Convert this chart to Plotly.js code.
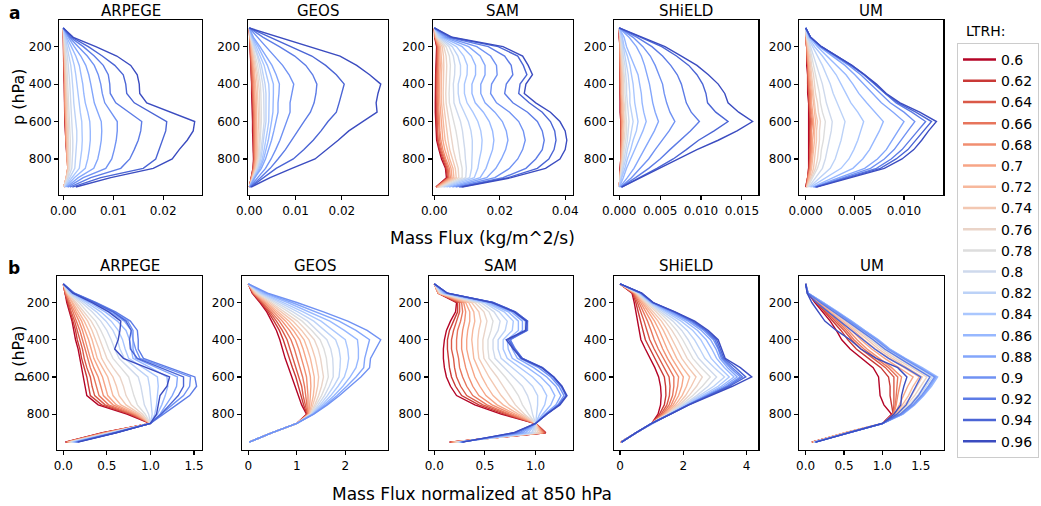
<!DOCTYPE html>
<html><head><meta charset="utf-8">
<script src="https://cdn.plot.ly/plotly-3.0.1.min.js"></script>
<style>html,body{margin:0;padding:0;background:#fff}#chart{width:1041px;height:506px}</style>
</head><body><div id="chart"></div>
<script>
const LTRH = [0.6,0.62,0.64,0.66,0.68,0.7,0.72,0.74,0.76,0.78,0.8,0.82,0.84,0.86,0.88,0.9,0.92,0.94,0.96];
const PRESSURE = [100,150,200,250,300,350,400,450,500,550,600,650,700,750,800,850,900,950];
const MODELS = ['ARPEGE','GEOS','SAM','SHiELD','UM'];

// Row a: mass flux (kg/m^2/s), one row per LTRH value (0.6 ... 0.96), one value per pressure level
const FLUX_ARPEGE = [
 [0,0,0.0001,0.0001,0.0001,0.0001,0.0002,0.0002,0.0002,0.0003,0.0003,0.0004,0.0005,0.0006,0.0008,0.0010,0.0008,0.0001],
 [0,0,0.0001,0.0001,0.0001,0.0002,0.0002,0.0002,0.0003,0.0003,0.0004,0.0004,0.0005,0.0006,0.0008,0.0010,0.0007,0.0001],
 [0,0,0.0001,0.0001,0.0002,0.0002,0.0002,0.0003,0.0003,0.0003,0.0004,0.0005,0.0005,0.0006,0.0008,0.0009,0.0007,0.0001],
 [0,0.0001,0.0001,0.0002,0.0002,0.0002,0.0003,0.0003,0.0003,0.0004,0.0004,0.0005,0.0006,0.0007,0.0008,0.0009,0.0006,0.0001],
 [0,0.0001,0.0001,0.0002,0.0002,0.0003,0.0003,0.0003,0.0004,0.0004,0.0005,0.0005,0.0006,0.0007,0.0008,0.0009,0.0006,0.0001],
 [0,0.0001,0.0001,0.0002,0.0003,0.0003,0.0004,0.0004,0.0004,0.0005,0.0005,0.0006,0.0006,0.0007,0.0008,0.0009,0.0006,0.0001],
 [0,0.0001,0.0002,0.0003,0.0003,0.0004,0.0004,0.0005,0.0005,0.0006,0.0006,0.0007,0.0007,0.0008,0.0008,0.0009,0.0006,0.0001],
 [0,0.0001,0.0002,0.0003,0.0004,0.0005,0.0005,0.0006,0.0006,0.0007,0.0008,0.0008,0.0009,0.0009,0.0009,0.0010,0.0006,0.0001],
 [0,0.0002,0.0003,0.0004,0.0005,0.0006,0.0007,0.0007,0.0008,0.0009,0.0010,0.0010,0.0011,0.0011,0.0011,0.0011,0.0007,0.0001],
 [0,0.0002,0.0004,0.0006,0.0007,0.0008,0.0009,0.0010,0.0011,0.0012,0.0013,0.0014,0.0014,0.0014,0.0014,0.0013,0.0008,0.0002],
 [0,0.0003,0.0006,0.0008,0.0010,0.0012,0.0013,0.0014,0.0015,0.0016,0.0018,0.0019,0.0019,0.0019,0.0018,0.0017,0.0010,0.0002],
 [0,0.0004,0.0008,0.0012,0.0015,0.0017,0.0019,0.0020,0.0021,0.0023,0.0026,0.0027,0.0027,0.0026,0.0025,0.0023,0.0013,0.0003],
 [0,0.0005,0.0011,0.0017,0.0022,0.0025,0.0027,0.0029,0.0031,0.0034,0.0037,0.0038,0.0038,0.0037,0.0035,0.0032,0.0017,0.0004],
 [0,0.0007,0.0016,0.0025,0.0032,0.0036,0.0039,0.0041,0.0044,0.0049,0.0053,0.0054,0.0054,0.0052,0.0049,0.0044,0.0022,0.0005],
 [0,0.0010,0.0022,0.0035,0.0045,0.0051,0.0055,0.0058,0.0062,0.0069,0.0076,0.0077,0.0076,0.0073,0.0069,0.0061,0.0030,0.0007],
 [0,0.0012,0.0030,0.0048,0.0062,0.0070,0.0075,0.0078,0.0083,0.0095,0.0108,0.0108,0.0106,0.0102,0.0097,0.0085,0.0040,0.0009],
 [0,0.0014,0.0040,0.0062,0.0080,0.0090,0.0093,0.0094,0.0105,0.0130,0.0157,0.0155,0.0150,0.0142,0.0133,0.0115,0.0055,0.0013],
 [0,0.0017,0.0050,0.0078,0.0103,0.0120,0.0125,0.0127,0.0142,0.0175,0.0207,0.0205,0.0198,0.0192,0.0185,0.0160,0.0075,0.0018],
 [0,0.0020,0.0065,0.0107,0.0135,0.0148,0.0152,0.0153,0.0167,0.0215,0.0263,0.0260,0.0248,0.0232,0.0218,0.0180,0.0095,0.0025]
];
const FLUX_GEOS = [
 [0,0.0001,0.0002,0.0003,0.0004,0.0004,0.0005,0.0005,0.0006,0.0006,0.0007,0.0007,0.0008,0.0008,0.0009,0.0008,0.0004,0.00002],
 [0,0.0001,0.0002,0.0003,0.0004,0.0005,0.0006,0.0006,0.0007,0.0008,0.0008,0.0009,0.0009,0.0009,0.0010,0.0008,0.0004,0.00002],
 [0,0.0001,0.0002,0.0004,0.0005,0.0006,0.0007,0.0008,0.0008,0.0009,0.0009,0.0010,0.0010,0.0010,0.0011,0.0009,0.0004,0.00002],
 [0,0.0001,0.0003,0.0004,0.0006,0.0007,0.0008,0.0009,0.0009,0.0010,0.0010,0.0010,0.0011,0.0011,0.0011,0.0009,0.0004,0.00002],
 [0,0.0001,0.0003,0.0005,0.0007,0.0009,0.0010,0.0010,0.0011,0.0012,0.0012,0.0012,0.0012,0.0012,0.0012,0.0010,0.0005,0.00002],
 [0,0.0001,0.0004,0.0006,0.0008,0.0010,0.0012,0.0012,0.0013,0.0014,0.0014,0.0014,0.0014,0.0014,0.0014,0.0011,0.0005,0.00002],
 [0,0.0002,0.0005,0.0007,0.0010,0.0012,0.0014,0.0015,0.0015,0.0016,0.0016,0.0016,0.0016,0.0016,0.0015,0.0012,0.0006,0.00002],
 [0,0.0002,0.0006,0.0009,0.0013,0.0015,0.0017,0.0018,0.0019,0.0019,0.0020,0.0019,0.0019,0.0018,0.0017,0.0014,0.0007,0.00003],
 [0,0.0003,0.0007,0.0011,0.0015,0.0018,0.0020,0.0022,0.0022,0.0023,0.0023,0.0023,0.0022,0.0021,0.0019,0.0015,0.0007,0.00003],
 [0,0.0003,0.0008,0.0013,0.0018,0.0021,0.0024,0.0025,0.0026,0.0026,0.0026,0.0025,0.0024,0.0022,0.0021,0.0016,0.0008,0.00003],
 [0,0.0004,0.0010,0.0017,0.0022,0.0026,0.0029,0.0031,0.0031,0.0032,0.0032,0.0030,0.0028,0.0026,0.0023,0.0018,0.0009,0.00004],
 [0,0.0005,0.0012,0.0019,0.0026,0.0030,0.0034,0.0036,0.0036,0.0036,0.0036,0.0033,0.0031,0.0028,0.0025,0.0019,0.0009,0.00004],
 [0,0.0006,0.0015,0.0024,0.0032,0.0037,0.0042,0.0043,0.0043,0.0043,0.0042,0.0039,0.0036,0.0032,0.0028,0.0021,0.0010,0.00004],
 [0,0.0007,0.0019,0.0029,0.0039,0.0046,0.0052,0.0052,0.0052,0.0051,0.0048,0.0045,0.0041,0.0036,0.0031,0.0023,0.0011,0.00005],
 [0,0.0009,0.0023,0.0036,0.0049,0.0058,0.0065,0.0064,0.0062,0.0062,0.0058,0.0053,0.0048,0.0042,0.0035,0.0026,0.0012,0.00005],
 [0,0.0018,0.0035,0.0054,0.0072,0.0086,0.0096,0.0092,0.0088,0.0088,0.0081,0.0074,0.0066,0.0057,0.0047,0.0035,0.0017,0.0001],
 [0,0.0030,0.0065,0.0098,0.0122,0.0137,0.0146,0.0144,0.0140,0.0132,0.0118,0.0105,0.0092,0.0078,0.0062,0.0045,0.0024,0.0002],
 [0,0.0045,0.0090,0.0135,0.0165,0.0188,0.0205,0.0200,0.0194,0.0188,0.0170,0.0155,0.0138,0.0118,0.0095,0.0058,0.0030,0.0003],
 [0,0.0066,0.0133,0.0196,0.0232,0.0260,0.0284,0.0278,0.0274,0.0276,0.0245,0.0215,0.0192,0.0168,0.0142,0.0092,0.0045,0.0004]
];
const FLUX_SAM = [
 [0,0.0001,0.0007,0.0007,0.0005,0.0004,0.0003,0.0003,0.0003,0.0003,0.0004,0.0005,0.0007,0.0014,0.0022,0.0034,0.0037,0.0005],
 [0,0.0002,0.0008,0.0008,0.0007,0.0005,0.0005,0.0005,0.0005,0.0005,0.0006,0.0008,0.0010,0.0016,0.0025,0.0036,0.0040,0.0005],
 [0,0.0002,0.0010,0.0010,0.0009,0.0007,0.0007,0.0007,0.0007,0.0008,0.0009,0.0010,0.0012,0.0019,0.0028,0.0039,0.0043,0.0006],
 [0,0.0003,0.0011,0.0012,0.0011,0.0010,0.0009,0.0009,0.0010,0.0011,0.0012,0.0013,0.0016,0.0022,0.0031,0.0042,0.0045,0.0007],
 [0,0.0003,0.0013,0.0014,0.0014,0.0013,0.0012,0.0012,0.0013,0.0014,0.0016,0.0017,0.0020,0.0026,0.0035,0.0046,0.0049,0.0008],
 [0,0.0004,0.0016,0.0018,0.0018,0.0017,0.0016,0.0016,0.0017,0.0019,0.0020,0.0023,0.0026,0.0032,0.0041,0.0051,0.0054,0.0010],
 [0,0.0005,0.0019,0.0022,0.0023,0.0022,0.0021,0.0021,0.0022,0.0024,0.0027,0.0030,0.0033,0.0039,0.0047,0.0057,0.0060,0.0012],
 [0,0.0006,0.0024,0.0028,0.0029,0.0028,0.0027,0.0027,0.0028,0.0031,0.0035,0.0038,0.0042,0.0047,0.0055,0.0064,0.0067,0.0014],
 [0,0.0008,0.0029,0.0036,0.0038,0.0037,0.0035,0.0035,0.0036,0.0040,0.0045,0.0050,0.0054,0.0058,0.0065,0.0073,0.0075,0.0017],
 [0,0.0010,0.0036,0.0046,0.0049,0.0048,0.0045,0.0045,0.0046,0.0053,0.0060,0.0066,0.0071,0.0074,0.0079,0.0085,0.0085,0.0020],
 [0,0.0013,0.0045,0.0058,0.0063,0.0062,0.0058,0.0058,0.0060,0.0070,0.0080,0.0086,0.0090,0.0093,0.0095,0.0098,0.0096,0.0025],
 [0,0.0016,0.0055,0.0072,0.0080,0.0080,0.0073,0.0073,0.0078,0.0092,0.0104,0.0112,0.0116,0.0116,0.0115,0.0114,0.0108,0.0030],
 [0,0.0020,0.0068,0.0090,0.0101,0.0100,0.0092,0.0092,0.0100,0.0118,0.0133,0.0142,0.0146,0.0144,0.0138,0.0133,0.0122,0.0037],
 [0,0.0026,0.0085,0.0113,0.0126,0.0126,0.0115,0.0115,0.0125,0.0150,0.0168,0.0178,0.0182,0.0178,0.0168,0.0158,0.0140,0.0045],
 [0,0.0032,0.0105,0.0140,0.0155,0.0155,0.0142,0.0142,0.0155,0.0185,0.0208,0.0220,0.0225,0.0218,0.0205,0.0188,0.0160,0.0055],
 [0,0.0038,0.0130,0.0172,0.0190,0.0192,0.0175,0.0172,0.0190,0.0230,0.0258,0.0272,0.0278,0.0270,0.0255,0.0230,0.0185,0.0065],
 [0,0.0045,0.0165,0.0215,0.0235,0.0240,0.0220,0.0215,0.0240,0.0285,0.0315,0.0330,0.0336,0.0330,0.0310,0.0280,0.0210,0.0075],
 [0,0.0050,0.0195,0.0255,0.0272,0.0283,0.0262,0.0258,0.0290,0.0330,0.0355,0.0368,0.0372,0.0366,0.0350,0.0315,0.0225,0.0080],
 [0,0.0055,0.0210,0.0270,0.0287,0.0300,0.0280,0.0275,0.0310,0.0355,0.0384,0.0400,0.0405,0.0400,0.0384,0.0340,0.0235,0.0085]
];
const FLUX_SHIELD = [
 [0,0,0.0001,0.0001,0.0001,0.0001,0.0001,0.0001,0.0001,0.0001,0.0002,0.0002,0.0002,0.0002,0.0002,0.0001,0.0001,0],
 [0,0,0.0001,0.0001,0.0001,0.0001,0.0001,0.0001,0.0002,0.0002,0.0002,0.0002,0.0002,0.0002,0.0002,0.0001,0.0001,0],
 [0,0.0001,0.0001,0.0001,0.0001,0.0001,0.0001,0.0002,0.0002,0.0002,0.0002,0.0002,0.0002,0.0002,0.0002,0.0002,0.0001,0],
 [0,0.0001,0.0001,0.0001,0.0001,0.0002,0.0002,0.0002,0.0002,0.0002,0.0003,0.0003,0.0003,0.0002,0.0002,0.0002,0.0001,0],
 [0,0.0001,0.0001,0.0001,0.0002,0.0002,0.0002,0.0002,0.0003,0.0003,0.0003,0.0003,0.0003,0.0003,0.0002,0.0002,0.0001,0],
 [0,0.0001,0.0001,0.0002,0.0002,0.0002,0.0003,0.0003,0.0003,0.0003,0.0004,0.0004,0.0004,0.0003,0.0003,0.0002,0.0001,0],
 [0,0.0001,0.0002,0.0002,0.0003,0.0003,0.0003,0.0003,0.0004,0.0004,0.0005,0.0004,0.0004,0.0004,0.0003,0.0002,0.0001,0.00001],
 [0,0.0001,0.0002,0.0003,0.0003,0.0004,0.0004,0.0004,0.0005,0.0005,0.0006,0.0005,0.0005,0.0004,0.0004,0.0002,0.0001,0.00001],
 [0,0.0002,0.0002,0.0003,0.0004,0.0005,0.0005,0.0005,0.0006,0.0007,0.0007,0.0007,0.0006,0.0005,0.0004,0.0003,0.0001,0.00001],
 [0,0.0002,0.0003,0.0004,0.0005,0.0006,0.0007,0.0007,0.0008,0.0008,0.0009,0.0009,0.0008,0.0006,0.0005,0.0003,0.0002,0.00001],
 [0,0.0002,0.0004,0.0005,0.0007,0.0008,0.0009,0.0009,0.0010,0.0011,0.0012,0.0011,0.0010,0.0008,0.0006,0.0004,0.0002,0.00001],
 [0,0.0003,0.0005,0.0007,0.0009,0.0011,0.0012,0.0013,0.0013,0.0015,0.0017,0.0015,0.0013,0.0010,0.0008,0.0005,0.0003,0.00002],
 [0,0.0004,0.0006,0.0010,0.0013,0.0015,0.0017,0.0018,0.0019,0.0021,0.0023,0.0021,0.0017,0.0014,0.0010,0.0007,0.0003,0.00003],
 [0,0.0006,0.0009,0.0014,0.0019,0.0023,0.0025,0.0027,0.0028,0.0030,0.0033,0.0029,0.0024,0.0019,0.0014,0.0009,0.0005,0.00004],
 [0,0.0012,0.0021,0.0027,0.0031,0.0034,0.0037,0.0039,0.0041,0.0044,0.0048,0.0043,0.0037,0.0031,0.0025,0.0018,0.0010,0.0001],
 [0,0.0017,0.0029,0.0038,0.0044,0.0049,0.0053,0.0055,0.0058,0.0062,0.0068,0.0061,0.0052,0.0044,0.0036,0.0026,0.0015,0.0002],
 [0,0.0022,0.0040,0.0053,0.0063,0.0071,0.0076,0.0079,0.0082,0.0088,0.0098,0.0087,0.0074,0.0062,0.0050,0.0036,0.0020,0.0002],
 [0,0.0027,0.0052,0.0070,0.0085,0.0095,0.0102,0.0106,0.0108,0.0118,0.0133,0.0116,0.0097,0.0082,0.0066,0.0046,0.0025,0.0003],
 [0,0.0029,0.0056,0.0076,0.0095,0.0109,0.0121,0.0129,0.0133,0.0146,0.0163,0.0144,0.0121,0.0095,0.0072,0.0050,0.0027,0.0003]
];
const FLUX_UM = [
 [0,0,0.0001,0.0001,0.0001,0.0002,0.0002,0.0002,0.0003,0.0003,0.0003,0.0003,0.0003,0.0003,0.0003,0.0003,0.0002,0],
 [0,0,0.0001,0.0001,0.0002,0.0002,0.0002,0.0003,0.0003,0.0004,0.0004,0.0004,0.0004,0.0004,0.0004,0.0003,0.0002,0],
 [0,0,0.0001,0.0001,0.0002,0.0002,0.0003,0.0003,0.0004,0.0004,0.0005,0.0005,0.0005,0.0004,0.0004,0.0004,0.0002,0.0001],
 [0,0,0.0001,0.0002,0.0002,0.0003,0.0003,0.0004,0.0004,0.0005,0.0006,0.0005,0.0005,0.0005,0.0005,0.0004,0.0002,0.0001],
 [0,0,0.0001,0.0002,0.0003,0.0003,0.0004,0.0005,0.0005,0.0006,0.0007,0.0006,0.0006,0.0006,0.0005,0.0005,0.0003,0.0001],
 [0,0.0001,0.0002,0.0002,0.0003,0.0004,0.0005,0.0006,0.0006,0.0007,0.0008,0.0008,0.0007,0.0007,0.0006,0.0005,0.0003,0.0001],
 [0,0.0001,0.0002,0.0003,0.0004,0.0005,0.0006,0.0007,0.0008,0.0009,0.0010,0.0009,0.0009,0.0008,0.0007,0.0006,0.0004,0.0001],
 [0,0.0001,0.0002,0.0004,0.0005,0.0006,0.0007,0.0008,0.0009,0.0010,0.0012,0.0011,0.0011,0.0010,0.0009,0.0008,0.0005,0.0001],
 [0,0.0001,0.0003,0.0005,0.0006,0.0008,0.0009,0.0010,0.0012,0.0013,0.0015,0.0014,0.0014,0.0013,0.0012,0.0010,0.0006,0.0002],
 [0,0.0001,0.0004,0.0006,0.0008,0.0010,0.0012,0.0014,0.0015,0.0017,0.0020,0.0019,0.0018,0.0016,0.0015,0.0012,0.0007,0.0002],
 [0,0.0002,0.0005,0.0008,0.0011,0.0014,0.0017,0.0019,0.0021,0.0024,0.0027,0.0026,0.0024,0.0022,0.0020,0.0017,0.0010,0.0003],
 [0,0.0002,0.0007,0.0012,0.0017,0.0021,0.0025,0.0028,0.0032,0.0036,0.0040,0.0038,0.0036,0.0033,0.0030,0.0025,0.0014,0.0004],
 [0,0.0003,0.0009,0.0017,0.0024,0.0031,0.0036,0.0041,0.0046,0.0053,0.0059,0.0056,0.0053,0.0049,0.0044,0.0036,0.0021,0.0005],
 [0,0.0004,0.0012,0.0022,0.0032,0.0041,0.0048,0.0054,0.0062,0.0071,0.0079,0.0075,0.0070,0.0065,0.0058,0.0048,0.0028,0.0007],
 [0,0.0004,0.0014,0.0027,0.0040,0.0050,0.0059,0.0067,0.0077,0.0089,0.0100,0.0094,0.0088,0.0082,0.0073,0.0060,0.0034,0.0008],
 [0,0.0005,0.0015,0.0030,0.0044,0.0056,0.0066,0.0075,0.0086,0.0100,0.0111,0.0104,0.0097,0.0090,0.0080,0.0066,0.0038,0.0009],
 [0,0.0005,0.0016,0.0031,0.0046,0.0059,0.0070,0.0080,0.0092,0.0108,0.0122,0.0114,0.0106,0.0098,0.0087,0.0072,0.0041,0.0010],
 [0,0.0005,0.0016,0.0032,0.0047,0.0060,0.0071,0.0081,0.0094,0.0112,0.0128,0.0120,0.0112,0.0104,0.0092,0.0076,0.0043,0.0010],
 [0,0.0005,0.0016,0.0032,0.0047,0.0060,0.0072,0.0082,0.0096,0.0116,0.0133,0.0125,0.0118,0.0110,0.0098,0.0080,0.0045,0.0011]
];

// Row b: mass flux normalized at 850 hPa
const NORM_ARPEGE = [
 [0,0.02,0.04,0.07,0.10,0.12,0.14,0.17,0.19,0.21,0.23,0.25,0.27,0.40,0.73,1.0,0.45,0.02],
 [0,0.02,0.05,0.08,0.11,0.14,0.16,0.19,0.21,0.24,0.27,0.29,0.31,0.44,0.76,1.0,0.46,0.03],
 [0,0.02,0.06,0.09,0.13,0.16,0.19,0.22,0.24,0.27,0.31,0.33,0.36,0.48,0.78,1.0,0.47,0.03],
 [0,0.03,0.07,0.11,0.15,0.19,0.22,0.25,0.28,0.31,0.35,0.38,0.41,0.52,0.80,1.0,0.48,0.04],
 [0,0.03,0.08,0.13,0.18,0.22,0.25,0.28,0.31,0.35,0.40,0.43,0.46,0.57,0.82,1.0,0.49,0.04],
 [0,0.04,0.10,0.15,0.21,0.25,0.29,0.32,0.35,0.40,0.45,0.48,0.51,0.61,0.84,1.0,0.50,0.05],
 [0,0.04,0.11,0.18,0.24,0.29,0.33,0.36,0.39,0.45,0.51,0.54,0.57,0.66,0.86,1.0,0.51,0.06],
 [0,0.05,0.13,0.21,0.28,0.33,0.37,0.41,0.44,0.50,0.57,0.61,0.64,0.72,0.88,1.0,0.52,0.06],
 [0,0.05,0.15,0.24,0.32,0.38,0.42,0.46,0.50,0.57,0.65,0.69,0.72,0.78,0.91,1.0,0.53,0.07],
 [0,0.06,0.18,0.28,0.37,0.43,0.48,0.52,0.57,0.66,0.75,0.78,0.81,0.85,0.94,1.0,0.54,0.08],
 [0,0.07,0.21,0.33,0.43,0.50,0.55,0.59,0.64,0.75,0.86,0.89,0.91,0.93,0.98,1.0,0.55,0.09],
 [0,0.08,0.24,0.38,0.49,0.57,0.62,0.65,0.70,0.84,0.97,0.99,1.00,1.01,1.02,1.0,0.56,0.10],
 [0,0.09,0.27,0.43,0.55,0.63,0.68,0.71,0.75,0.92,1.08,1.09,1.08,1.07,1.05,1.0,0.57,0.11],
 [0,0.10,0.30,0.48,0.62,0.72,0.76,0.78,0.80,1.00,1.19,1.20,1.17,1.13,1.08,1.0,0.58,0.12],
 [0,0.11,0.34,0.54,0.70,0.78,0.80,0.80,0.83,1.08,1.31,1.30,1.25,1.18,1.11,1.0,0.59,0.13],
 [0,0.12,0.37,0.58,0.74,0.80,0.80,0.83,0.88,1.18,1.46,1.45,1.38,1.25,1.13,1.0,0.60,0.14],
 [0,0.13,0.38,0.60,0.77,0.85,0.86,0.86,0.92,1.22,1.51,1.53,1.45,1.30,1.15,1.0,0.60,0.15],
 [0,0.12,0.36,0.57,0.72,0.78,0.76,0.77,0.85,1.12,1.38,1.38,1.32,1.22,1.12,1.0,0.60,0.16],
 [0,0.11,0.33,0.52,0.66,0.65,0.63,0.59,0.69,0.95,1.22,1.19,1.11,1.09,1.07,1.0,0.61,0.17]
];
const NORM_GEOS = [
 [0,0.08,0.24,0.38,0.48,0.58,0.65,0.70,0.76,0.83,0.90,0.96,1.03,1.10,1.20,1.0,0.48,0.02],
 [0,0.09,0.26,0.41,0.53,0.64,0.72,0.78,0.84,0.91,0.98,1.03,1.08,1.14,1.21,1.0,0.48,0.02],
 [0,0.10,0.28,0.44,0.58,0.70,0.80,0.86,0.92,0.99,1.05,1.10,1.13,1.17,1.22,1.0,0.48,0.02],
 [0,0.11,0.30,0.48,0.64,0.77,0.88,0.95,1.01,1.07,1.12,1.16,1.18,1.20,1.23,1.0,0.48,0.02],
 [0,0.12,0.33,0.52,0.70,0.85,0.97,1.04,1.10,1.15,1.20,1.22,1.23,1.23,1.24,1.0,0.48,0.02],
 [0,0.13,0.36,0.57,0.77,0.93,1.06,1.13,1.19,1.24,1.28,1.29,1.28,1.27,1.25,1.0,0.48,0.02],
 [0,0.14,0.39,0.62,0.84,1.01,1.15,1.22,1.28,1.32,1.36,1.36,1.34,1.30,1.26,1.0,0.48,0.02],
 [0,0.16,0.43,0.68,0.92,1.10,1.25,1.32,1.38,1.42,1.45,1.43,1.39,1.33,1.27,1.0,0.48,0.02],
 [0,0.18,0.47,0.75,1.01,1.20,1.36,1.44,1.49,1.52,1.55,1.51,1.45,1.37,1.28,1.0,0.48,0.02],
 [0,0.20,0.52,0.83,1.11,1.31,1.48,1.56,1.61,1.63,1.65,1.59,1.51,1.40,1.29,1.0,0.48,0.02],
 [0,0.22,0.58,0.92,1.22,1.43,1.62,1.70,1.74,1.75,1.75,1.67,1.57,1.44,1.30,1.0,0.48,0.02],
 [0,0.25,0.65,1.02,1.35,1.58,1.80,1.87,1.90,1.89,1.87,1.76,1.63,1.48,1.31,1.0,0.48,0.02],
 [0,0.28,0.72,1.13,1.50,1.76,2.00,2.05,2.07,2.04,1.98,1.85,1.70,1.52,1.32,1.0,0.48,0.02],
 [0,0.32,0.81,1.26,1.68,1.98,2.25,2.27,2.27,2.22,2.10,1.95,1.77,1.56,1.33,1.0,0.48,0.02],
 [0,0.36,0.90,1.40,1.87,2.22,2.50,2.45,2.40,2.38,2.22,2.03,1.83,1.60,1.34,1.0,0.48,0.02],
 [0,0.40,1.00,1.55,2.05,2.45,2.73,2.62,2.52,2.50,2.32,2.10,1.88,1.63,1.35,1.0,0.48,0.02],
 null, null, null
];
const NORM_SAM = [
 [0,0.04,0.22,0.21,0.16,0.12,0.10,0.09,0.09,0.10,0.12,0.16,0.22,0.40,0.66,1.0,1.10,0.15],
 [0,0.04,0.23,0.23,0.19,0.15,0.13,0.13,0.14,0.15,0.17,0.21,0.27,0.44,0.69,1.0,1.10,0.15],
 [0,0.04,0.25,0.25,0.22,0.19,0.17,0.17,0.19,0.20,0.22,0.26,0.32,0.48,0.72,1.0,1.09,0.16],
 [0,0.04,0.27,0.28,0.26,0.23,0.22,0.22,0.24,0.25,0.28,0.32,0.38,0.52,0.74,1.0,1.08,0.16],
 [0,0.04,0.29,0.31,0.30,0.28,0.27,0.27,0.29,0.31,0.34,0.38,0.44,0.57,0.77,1.0,1.07,0.17],
 [0,0.04,0.31,0.35,0.35,0.33,0.32,0.32,0.34,0.37,0.40,0.45,0.51,0.62,0.80,1.0,1.06,0.18],
 [0,0.05,0.34,0.39,0.40,0.38,0.37,0.38,0.39,0.43,0.47,0.52,0.58,0.68,0.83,1.0,1.05,0.19],
 [0,0.05,0.37,0.44,0.46,0.44,0.43,0.43,0.44,0.49,0.54,0.60,0.66,0.74,0.86,1.0,1.04,0.20],
 [0,0.06,0.40,0.49,0.52,0.50,0.48,0.48,0.49,0.55,0.62,0.68,0.74,0.80,0.89,1.0,1.02,0.21],
 [0,0.06,0.43,0.54,0.58,0.56,0.53,0.53,0.54,0.62,0.70,0.77,0.83,0.87,0.93,1.0,1.00,0.22],
 [0,0.07,0.46,0.59,0.65,0.63,0.58,0.58,0.60,0.69,0.79,0.87,0.92,0.95,0.97,1.0,0.98,0.23],
 [0,0.08,0.49,0.64,0.72,0.70,0.63,0.63,0.66,0.77,0.88,0.97,1.02,1.02,1.01,1.0,0.96,0.24],
 [0,0.09,0.51,0.69,0.78,0.77,0.68,0.68,0.72,0.85,0.97,1.06,1.11,1.09,1.04,1.0,0.93,0.25],
 [0,0.10,0.53,0.73,0.83,0.83,0.72,0.73,0.77,0.92,1.05,1.14,1.19,1.15,1.07,1.0,0.90,0.25],
 [0,0.11,0.55,0.76,0.87,0.87,0.75,0.77,0.82,0.98,1.11,1.20,1.25,1.20,1.09,1.0,0.87,0.26],
 [0,0.12,0.57,0.78,0.90,0.90,0.75,0.79,0.85,1.03,1.15,1.23,1.28,1.22,1.10,1.0,0.84,0.26],
 [0,0.13,0.58,0.80,0.92,0.92,0.75,0.80,0.87,1.06,1.17,1.25,1.30,1.23,1.11,1.0,0.81,0.27],
 [0,0.13,0.58,0.80,0.92,0.91,0.73,0.79,0.87,1.07,1.18,1.26,1.30,1.23,1.11,1.0,0.79,0.27],
 [0,0.13,0.57,0.79,0.91,0.90,0.71,0.78,0.86,1.06,1.18,1.26,1.31,1.24,1.11,1.0,0.78,0.28]
];
const NORM_SHIELD = [
 [0,0.38,0.45,0.50,0.55,0.60,0.66,0.80,0.95,1.10,1.22,1.28,1.30,1.28,1.20,1.0,0.50,0.02],
 [0,0.40,0.50,0.58,0.65,0.72,0.80,0.95,1.10,1.25,1.40,1.44,1.45,1.40,1.25,1.0,0.50,0.02],
 [0,0.42,0.55,0.66,0.76,0.85,0.94,1.08,1.24,1.40,1.55,1.58,1.56,1.48,1.30,1.0,0.50,0.02],
 [0,0.44,0.60,0.74,0.87,0.98,1.08,1.21,1.37,1.54,1.70,1.70,1.66,1.55,1.34,1.0,0.50,0.02],
 [0,0.46,0.65,0.82,0.98,1.11,1.22,1.35,1.50,1.68,1.85,1.82,1.75,1.62,1.38,1.0,0.50,0.02],
 [0,0.48,0.70,0.90,1.09,1.24,1.36,1.49,1.64,1.82,2.00,1.95,1.85,1.68,1.41,1.0,0.50,0.02],
 [0,0.50,0.74,0.98,1.20,1.37,1.51,1.64,1.79,1.98,2.20,2.10,1.96,1.75,1.44,1.0,0.50,0.03],
 [0,0.52,0.78,1.06,1.31,1.50,1.66,1.80,1.95,2.16,2.40,2.25,2.07,1.82,1.47,1.0,0.50,0.03],
 [0,0.54,0.82,1.14,1.42,1.64,1.82,1.96,2.12,2.35,2.60,2.42,2.18,1.88,1.49,1.0,0.50,0.03],
 [0,0.56,0.86,1.22,1.54,1.79,1.98,2.13,2.30,2.56,2.85,2.60,2.30,1.94,1.51,1.0,0.50,0.03],
 [0,0.58,0.90,1.30,1.67,1.95,2.15,2.31,2.48,2.76,3.05,2.78,2.42,2.00,1.53,1.0,0.50,0.03],
 [0,0.60,0.93,1.38,1.80,2.12,2.35,2.52,2.68,2.98,3.30,2.96,2.52,2.05,1.55,1.0,0.50,0.04],
 [0,0.62,0.96,1.46,1.93,2.30,2.55,2.72,2.88,3.15,3.45,3.10,2.60,2.08,1.56,1.0,0.50,0.04],
 [0,0.64,0.98,1.53,2.05,2.45,2.72,2.90,3.05,3.30,3.60,3.20,2.66,2.10,1.57,1.0,0.50,0.04],
 [0,0.65,1.00,1.60,2.15,2.57,2.86,3.03,3.15,3.40,3.70,3.28,2.70,2.12,1.58,1.0,0.50,0.05],
 [0,0.66,1.02,1.65,2.22,2.65,2.95,3.10,3.20,3.48,3.80,3.35,2.74,2.14,1.58,1.0,0.50,0.05],
 [0,0.67,1.03,1.69,2.27,2.70,3.00,3.13,3.24,3.55,3.87,3.40,2.77,2.15,1.59,1.0,0.50,0.05],
 [0,0.68,1.04,1.72,2.31,2.74,3.05,3.17,3.28,3.65,3.97,3.45,2.80,2.16,1.59,1.0,0.50,0.05],
 [0,0.69,1.05,1.74,2.36,2.79,3.10,3.22,3.32,3.80,4.16,3.55,2.85,2.18,1.60,1.0,0.50,0.05]
];
const NORM_UM = [
 [0,0.03,0.12,0.22,0.32,0.40,0.47,0.58,0.73,0.88,0.95,0.96,0.97,1.02,1.12,1.0,0.52,0.08],
 [0,0.03,0.14,0.25,0.36,0.46,0.55,0.66,0.82,0.98,1.08,1.10,1.10,1.12,1.14,1.0,0.52,0.08],
 [0,0.03,0.15,0.27,0.39,0.50,0.60,0.72,0.88,1.04,1.15,1.15,1.15,1.15,1.14,1.0,0.52,0.08],
 [0,0.03,0.16,0.29,0.41,0.53,0.63,0.76,0.92,1.08,1.20,1.19,1.18,1.17,1.14,1.0,0.52,0.09],
 [0,0.03,0.17,0.30,0.43,0.56,0.67,0.80,0.96,1.12,1.25,1.22,1.20,1.18,1.15,1.0,0.52,0.09],
 [0,0.03,0.18,0.32,0.46,0.60,0.72,0.86,1.03,1.22,1.40,1.33,1.28,1.22,1.16,1.0,0.53,0.09],
 [0,0.03,0.19,0.34,0.49,0.63,0.76,0.91,1.09,1.29,1.48,1.40,1.34,1.26,1.17,1.0,0.53,0.10],
 [0,0.03,0.20,0.36,0.51,0.66,0.80,0.95,1.13,1.33,1.52,1.45,1.38,1.29,1.18,1.0,0.53,0.10],
 [0,0.03,0.21,0.38,0.53,0.69,0.84,0.99,1.17,1.38,1.58,1.50,1.42,1.32,1.20,1.0,0.54,0.10],
 [0,0.03,0.22,0.39,0.55,0.71,0.87,1.02,1.21,1.42,1.62,1.54,1.46,1.35,1.21,1.0,0.54,0.11],
 [0,0.03,0.22,0.40,0.57,0.73,0.90,1.05,1.24,1.45,1.65,1.57,1.49,1.38,1.23,1.0,0.54,0.11],
 [0,0.03,0.23,0.41,0.58,0.75,0.92,1.07,1.26,1.48,1.68,1.60,1.51,1.40,1.25,1.0,0.55,0.11],
 [0,0.03,0.23,0.42,0.59,0.76,0.94,1.09,1.28,1.50,1.70,1.62,1.53,1.41,1.26,1.0,0.55,0.12],
 [0,0.03,0.23,0.42,0.60,0.77,0.95,1.10,1.30,1.52,1.72,1.64,1.54,1.42,1.27,1.0,0.55,0.12],
 [0,0.03,0.22,0.41,0.59,0.76,0.94,1.09,1.29,1.50,1.70,1.62,1.53,1.41,1.26,1.0,0.55,0.12],
 [0,0.03,0.21,0.40,0.57,0.74,0.92,1.07,1.27,1.48,1.68,1.60,1.51,1.40,1.25,1.0,0.55,0.12],
 [0,0.03,0.19,0.37,0.54,0.71,0.88,1.03,1.22,1.42,1.62,1.55,1.47,1.37,1.23,1.0,0.55,0.13],
 [0,0.02,0.14,0.29,0.44,0.60,0.75,0.90,1.08,1.30,1.50,1.44,1.38,1.31,1.19,1.0,0.55,0.13],
 [0,0.02,0.08,0.16,0.25,0.40,0.58,0.72,0.92,1.20,1.32,1.28,1.25,1.24,1.15,1.0,0.55,0.13]
];

const FLUX_ROW = [FLUX_ARPEGE, FLUX_GEOS, FLUX_SAM, FLUX_SHIELD, FLUX_UM];
const NORM_ROW = [NORM_ARPEGE, NORM_GEOS, NORM_SAM, NORM_SHIELD, NORM_UM];

// coolwarm, sampled at 19 points, from LTRH 0.6 (red) to 0.96 (blue)
const COLORS = ['rgb(180,4,38)','rgb(201,57,54)','rgb(218,89,72)','rgb(231,117,92)','rgb(241,142,112)',
 'rgb(247,165,134)','rgb(247,184,156)','rgb(243,200,178)','rgb(234,212,200)','rgb(221,221,221)',
 'rgb(206,217,236)','rgb(188,210,247)','rgb(170,199,254)','rgb(151,184,255)','rgb(131,166,251)',
 'rgb(112,146,243)','rgb(93,124,230)','rgb(75,101,213)','rgb(59,76,192)'];

const FONT = 'DejaVu Sans, sans-serif';
const W = 1041, H = 506;
const fx = p => p / W, fy = p => 1 - p / H;

const TOP_X = [[59.3,201.7],[247.7,387.7],[432.7,572.7],[614.3,758.3],[799.3,943.3]];
const BOT_X = [[57.3,202],[242.3,387.7],[429,572.7],[614.3,758.3],[799.3,944]];
const TOP_RANGE = [[-0.0008,0.0277],[-0.00035,0.0299],[-0.0005,0.0423],[-0.0006,0.0170],[-0.00065,0.0140]];
const BOT_RANGE = [[-0.069,1.592],[-0.124,2.874],[-0.052,1.366],[-0.18,4.367],[-0.083,1.803]];
const TOP_TICK = [[0.01,'.2f'],[0.01,'.2f'],[0.02,'.2f'],[0.005,'.3f'],[0.005,'.3f']];
const BOT_TICK = [[0.5,'.1f'],[1,'d'],[0.5,'.1f'],[2,'d'],[0.5,'.1f']];

const traces = [];
const layout = {
  width: W, height: H, margin: {l:0, r:0, t:0, b:0},
  paper_bgcolor: '#fff', plot_bgcolor: '#fff',
  font: {family: FONT, color: '#000'},
  showlegend: true,
  legend: {x: fx(957), xanchor: 'left', y: fy(43), yanchor: 'top', bgcolor: '#fff',
           bordercolor: '#cccccc', borderwidth: 1, font: {family: FONT, size: 14, color: '#000'},
           traceorder: 'normal', tracegroupgap: 0, itemwidth: 33},
  annotations: []
};

function axisStyle() {
  return {showline: true, mirror: true, linecolor: '#000', linewidth: 1.2, ticks: 'outside',
          ticklen: 4, tickwidth: 1.1, tickcolor: '#000', showgrid: false, zeroline: false,
          tickfont: {family: FONT, size: 12, color: '#000'}, fixedrange: true};
}

for (let r = 0; r < 2; r++) {
  for (let c = 0; c < 5; c++) {
    const n = r * 5 + c + 1;
    const sx = n === 1 ? '' : String(n);
    const xd = r === 0 ? TOP_X[c] : BOT_X[c];
    const rng = r === 0 ? TOP_RANGE[c] : BOT_RANGE[c];
    const tk = r === 0 ? TOP_TICK[c] : BOT_TICK[c];
    layout['xaxis' + sx] = Object.assign(axisStyle(), {
      domain: [fx(xd[0]), fx(xd[1])], range: rng, anchor: 'y' + sx,
      tick0: 0, dtick: tk[0], tickformat: tk[1]});
    layout['yaxis' + sx] = Object.assign(axisStyle(), {
      domain: r === 0 ? [fy(195), fy(20)] : [fy(450), fy(276)],
      range: [992.5, 57.5], anchor: 'x' + sx, tickvals: [200,400,600,800]});
    const rows = r === 0 ? FLUX_ROW[c] : NORM_ROW[c];
    rows.forEach((vals, k) => {
      if (!vals) return;
      traces.push({x: vals, y: PRESSURE, type: 'scatter', mode: 'lines',
        line: {color: COLORS[k], width: 1.4}, xaxis: 'x' + sx, yaxis: 'y' + sx,
        showlegend: false, hoverinfo: 'skip'});
    });
    layout.annotations.push({text: MODELS[c], xref: 'paper', yref: 'paper',
      x: fx((xd[0] + xd[1]) / 2), y: fy(r === 0 ? 11 : 265.5), xanchor: 'center', yanchor: 'middle',
      showarrow: false, font: {family: FONT, size: 15, color: '#000'}});
  }
}

// legend entries
LTRH.forEach((v, k) => {
  traces.push({x: [null], y: [null], type: 'scatter', mode: 'lines', name: String(v),
    line: {color: COLORS[k], width: 2.5}, xaxis: 'x', yaxis: 'y', showlegend: true, hoverinfo: 'skip'});
});

const texts = [
  {text: '<b>a</b>', x: 14, y: 13, size: 17},
  {text: '<b>b</b>', x: 14, y: 268, size: 17},
  {text: 'Mass Flux (kg/m^2/s)', x: 482, y: 238, size: 17},
  {text: 'Mass Flux normalized at 850 hPa', x: 472, y: 494, size: 17},
  {text: 'LTRH:', x: 985, y: 31, size: 14}
];
texts.forEach(t => layout.annotations.push({text: t.text, xref: 'paper', yref: 'paper',
  x: fx(t.x), y: fy(t.y), xanchor: 'center', yanchor: 'middle', showarrow: false,
  font: {family: FONT, size: t.size, color: '#000'}}));
[97, 354].forEach(yy => layout.annotations.push({text: 'p (hPa)', xref: 'paper', yref: 'paper',
  x: fx(18), y: fy(yy), xanchor: 'center', yanchor: 'middle', showarrow: false, textangle: -90,
  font: {family: FONT, size: 16, color: '#000'}}));

Plotly.newPlot('chart', traces, layout, {staticPlot: true, displayModeBar: false});
</script>
</body></html>
